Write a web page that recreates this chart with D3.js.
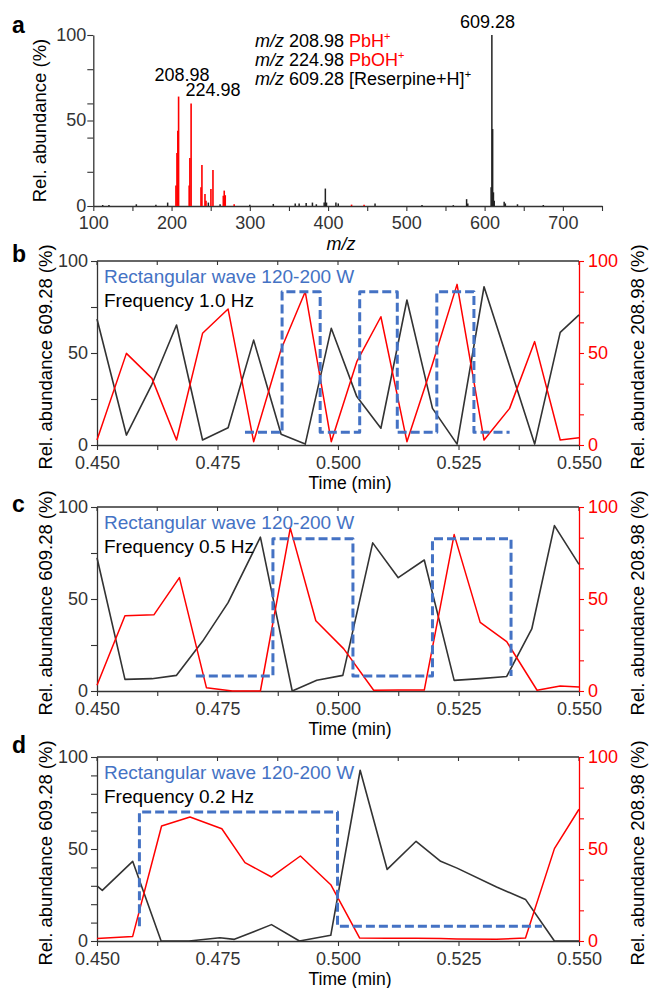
<!DOCTYPE html>
<html>
<head>
<meta charset="utf-8">
<script src="https://cdn.jsdelivr.net/npm/d3@7"></script>
<style>
  body { margin: 0; background: #fff; }
  svg text { font-family: "Liberation Sans", Arial, Helvetica, sans-serif; }
</style>
</head>
<body>
<svg id="fig" width="649" height="988"></svg>
<script>
// ---- panel a: mass spectrum (m/z, rel. abundance %) ----
var redMz  = [205.6, 206.9, 208.0, 208.98, 222.5, 223.4, 224.98, 237.6, 238.8, 242.7, 244.0, 250.3, 252.9, 266.1, 267.3, 268.6, 280, 430, 446];
var redInt = [12, 31, 44, 64, 12, 28, 60, 11, 24, 7, 3, 10, 21, 6, 9, 6.3, 1, 0.8, 0.8];
var blackMz  = [112, 120, 155, 180, 195, 247, 262, 300, 330, 358, 363, 372, 380, 385, 395, 396.5, 398, 410, 413, 460, 520, 560, 577, 578.5, 608.3, 609.28, 610.28, 611.3, 612.3, 625, 626.5, 642, 675];
var blackInt = [0.6, 0.6, 1, 0.8, 2, 2, 1, 0.8, 1.2, 1.5, 1.5, 1.8, 2, 1, 2, 10.2, 2, 2, 1.5, 1.5, 0.6, 0.5, 4, 1.5, 11, 100, 45, 8, 3, 2.5, 1.5, 1, 0.6];
var mzTicks = [100, 150, 200, 250, 300, 350, 400, 450, 500, 550, 600, 650, 700, 750];
var mzLabels = [100, 200, 300, 400, 500, 600, 700];

// ---- panels b-d: time traces (min, %) ----
var tB     = [0.450, 0.4561, 0.4614, 0.4665, 0.4719, 0.4772, 0.4825, 0.4882, 0.4932, 0.4986, 0.5039, 0.5089, 0.5143, 0.5196, 0.5247, 0.5303, 0.5356, 0.5408, 0.5461, 0.550];
var blackB = [68.5, 5.4, 33, 65.2, 2.7, 9.4, 57, 5.8, 0.5, 63.4, 26.3, 9.1, 78.8, 19.9, 0.5, 86, 43, 0.5, 61.2, 70.7];
var redB   = [2.7, 49.8, 36.2, 2.7, 60.7, 73.9, 1.8, 52, 83.3, 1.8, 45.3, 69.7, 1.8, 44, 87.3, 2.7, 19.9, 56.2, 2.7, 4];
var waveTB = [0.4807, 0.4884, 0.4884, 0.4963, 0.4963, 0.5045, 0.5045, 0.5123, 0.5123, 0.5205, 0.5205, 0.5282, 0.5282, 0.5356];
var waveVB = [6.9, 6.9, 83.3, 83.3, 6.9, 6.9, 83.3, 83.3, 6.9, 6.9, 83.3, 83.3, 6.9, 6.9];

var tCk    = [0.450, 0.4558, 0.4614, 0.4665, 0.4719, 0.4772, 0.4839, 0.4905, 0.4956, 0.5010, 0.5072, 0.5125, 0.5179, 0.5241, 0.5295, 0.5350, 0.5402, 0.5449, 0.550];
var blackC = [72.4, 6.3, 6.7, 8.5, 27, 48, 83.6, 0, 5.8, 8.5, 80.5, 61.6, 71.2, 5.8, 6.7, 7.9, 33.7, 89.9, 68.8];
var tCr    = [0.450, 0.4558, 0.4618, 0.4671, 0.4727, 0.4781, 0.4839, 0.4901, 0.4954, 0.5012, 0.5074, 0.5125, 0.5179, 0.5241, 0.5295, 0.5350, 0.5413, 0.5461, 0.550];
var redC   = [3.1, 40.9, 41.4, 61.6, 1.8, 0, 0, 88.5, 38.2, 22.9, 0.4, 0.5, 0.5, 85, 37.3, 26.8, 0.4, 2.7, 2.2];
var waveTC = [0.4705, 0.4865, 0.4865, 0.5031, 0.5031, 0.5196, 0.5196, 0.5359, 0.5359];
var waveVC = [8.1, 8.1, 82.7, 82.7, 8.1, 8.1, 82.7, 82.7, 8.1];

var tDk    = [0.450, 0.4511, 0.4574, 0.4633, 0.4691, 0.4755, 0.4785, 0.4862, 0.4920, 0.4985, 0.5046, 0.5102, 0.5162, 0.5213, 0.5247, 0.5329, 0.5389, 0.5449, 0.550];
var blackD = [29.9, 27.5, 43.3, 0, 0, 1.8, 0.9, 8.9, 0, 3.1, 92.8, 38.9, 54.2, 43.3, 39.6, 29.3, 22.6, 0, 0];
var tDr    = [0.450, 0.4574, 0.4634, 0.4693, 0.4759, 0.4807, 0.4862, 0.4922, 0.4985, 0.5045, 0.5102, 0.5162, 0.5213, 0.5247, 0.5329, 0.5389, 0.5449, 0.550];
var redD   = [1.3, 2.5, 62.5, 67.4, 61, 42.6, 34.8, 46.2, 30.6, 1.6, 1.5, 1.5, 1.3, 1.1, 1.0, 1.6, 50.2, 71.6];
var waveTD = [0.4588, 0.4588, 0.4999, 0.4999, 0.5423];
var waveVD = [8.0, 70.1, 70.1, 8.0, 8.0];

var timeTicks = d3.range(0, 9).map(function(i) { return 0.45 + i * 0.0125; });
var rightTicks = d3.range(0, 7).map(function(i) { return i * 100 / 6; });

var BLUE = "#4472c4", RED = "#ff0000", DARK = "#333";
var svg = d3.select("#fig");

// small helper for 0/50/100 labels
function label0_50_100(v) {
    return (Math.abs(v) < 0.01 || Math.abs(v - 50) < 0.01 || Math.abs(v - 100) < 0.01) ? d3.format("d")(Math.round(v)) : "";
}
function styleAxis(g, color) {
    g.select(".domain").attr("stroke", color).attr("stroke-width", 1.3);
    g.selectAll(".tick line").attr("stroke", color).attr("stroke-width", 1.1);
    g.selectAll(".tick text").attr("fill", color).style("font-size", "18px");
}

// ================= panel a =================
var xA = d3.scaleLinear().domain([100, 750]).range([93.3, 602]);
var yA = d3.scaleLinear().domain([0, 100]).range([206, 35]);

svg.append("g")
    .attr("transform", "translate(0,206)")
    .call(d3.axisBottom(xA).tickValues(mzTicks).tickSize(5).tickSizeOuter(0)
        .tickFormat(function(d) { return mzLabels.indexOf(d) >= 0 ? d : ""; }))
    .call(styleAxis, DARK)
    .selectAll(".tick text").attr("dy", "0.85em");

svg.append("g")
    .attr("transform", "translate(93.3,0)")
    .call(d3.axisLeft(yA).tickValues([0, 20, 40, 50, 60, 80, 100]).tickSize(6).tickSizeOuter(0)
        .tickFormat(label0_50_100))
    .call(styleAxis, DARK)
    .selectAll(".tick text").attr("x", -7).attr("dy", "0.3em");

// spectrum sticks
var sticksB = blackMz.map(function(m, i) { return { mz: m, v: blackInt[i] }; });
var sticksR = redMz.map(function(m, i) { return { mz: m, v: redInt[i] }; });
svg.selectAll(".stickB").data(sticksB).enter().append("line")
    .attr("class", "stickB")
    .attr("x1", function(d) { return xA(d.mz); }).attr("x2", function(d) { return xA(d.mz); })
    .attr("y1", yA(0)).attr("y2", function(d) { return yA(d.v); })
    .attr("stroke", "#222").attr("stroke-width", 1.5);
svg.selectAll(".stickR").data(sticksR).enter().append("line")
    .attr("class", "stickR")
    .attr("x1", function(d) { return xA(d.mz); }).attr("x2", function(d) { return xA(d.mz); })
    .attr("y1", yA(0)).attr("y2", function(d) { return yA(d.v); })
    .attr("stroke", RED).attr("stroke-width", 1.6);

// peak labels
svg.append("text").attr("x", 182).attr("y", 81).attr("text-anchor", "middle").style("font-size", "18px").text("208.98");
svg.append("text").attr("x", 213).attr("y", 95.5).attr("text-anchor", "middle").style("font-size", "18px").text("224.98");
svg.append("text").attr("x", 487.5).attr("y", 28).attr("text-anchor", "middle").style("font-size", "18px").text("609.28");

// legend lines
function legendLine(y, parts) {
    var t = svg.append("text").attr("x", 255).attr("y", y).style("font-size", "18px");
    parts.forEach(function(p) {
        var s = t.append("tspan").text(p.t);
        if (p.i) s.style("font-style", "italic");
        if (p.c) s.attr("fill", p.c);
        if (p.sup) s.attr("dy", -7).style("font-size", "11px");
    });
}
legendLine(46.5, [{ t: "m/z", i: true }, { t: " 208.98 " }, { t: "PbH", c: RED }, { t: "+", c: RED, sup: true }]);
legendLine(65.8, [{ t: "m/z", i: true }, { t: " 224.98 " }, { t: "PbOH", c: RED }, { t: "+", c: RED, sup: true }]);
legendLine(85, [{ t: "m/z", i: true }, { t: " 609.28 [Reserpine+H]" }, { t: "+", sup: true }]);

svg.append("text").attr("x", 341).attr("y", 250).attr("text-anchor", "middle")
    .style("font-size", "18px").style("font-style", "italic").text("m/z");
svg.append("text").attr("transform", "translate(46,120.5) rotate(-90)").attr("text-anchor", "middle")
    .style("font-size", "18.5px").text("Rel. abundance (%)");
svg.append("text").attr("x", 12).attr("y", 33).style("font-size", "23px").style("font-weight", "bold").text("a");

// ================= panels b-d =================
var xT = d3.scaleLinear().domain([0.45, 0.55]).range([97, 579]);

function drawTrace(p) {
    var top = p.top, bot = p.top + 184;
    var y = d3.scaleLinear().domain([0, 100]).range([bot, top]);

    // top frame line with small inward ticks
    svg.append("line").attr("x1", xT(0.45)).attr("x2", xT(0.55)).attr("y1", top).attr("y2", top)
        .attr("stroke", DARK).attr("stroke-width", 1.3);
    svg.selectAll(".topTick" + p.id).data(timeTicks).enter().append("line")
        .attr("x1", function(d) { return xT(d); }).attr("x2", function(d) { return xT(d); })
        .attr("y1", top).attr("y2", top + 4).attr("stroke", DARK).attr("stroke-width", 1.1);

    svg.append("g").attr("transform", "translate(0," + bot + ")")
        .call(d3.axisBottom(xT).tickValues(timeTicks).tickSize(5).tickSizeOuter(0)
            .tickFormat(function(d, i) { return i % 2 === 0 ? d3.format(".3f")(d) : ""; }))
        .call(styleAxis, DARK)
        .selectAll(".tick text").attr("dy", "0.88em");

    svg.append("g").attr("transform", "translate(97,0)")
        .call(d3.axisLeft(y).tickValues(d3.range(0, 100.01, p.leftStep)).tickSize(6).tickSizeOuter(0)
            .tickFormat(label0_50_100))
        .call(styleAxis, DARK)
        .selectAll(".tick text").attr("x", -9).attr("dy", "0.28em");

    svg.append("g").attr("transform", "translate(579,0)")
        .call(d3.axisRight(y).tickValues(rightTicks).tickSize(5).tickSizeOuter(0)
            .tickFormat(label0_50_100))
        .call(styleAxis, RED)
        .selectAll(".tick text").attr("x", 9).attr("dy", "0.28em");

    var line = d3.line().x(function(d) { return xT(d[0]); }).y(function(d) { return y(d[1]); });

    svg.append("path").datum(d3.zip(p.tk, p.black)).attr("d", line)
        .attr("fill", "none").attr("stroke", DARK).attr("stroke-width", 1.6).attr("stroke-linejoin", "round");
    svg.append("path").datum(d3.zip(p.tr, p.red)).attr("d", line)
        .attr("fill", "none").attr("stroke", RED).attr("stroke-width", 1.5).attr("stroke-linejoin", "round");
    svg.append("path").datum(d3.zip(p.waveT, p.waveV)).attr("d", line)
        .attr("fill", "none").attr("stroke", BLUE).attr("stroke-width", 3)
        .attr("stroke-dasharray", "9,4").attr("stroke-linejoin", "round");

    svg.append("text").attr("x", 104).attr("y", top + 22).attr("fill", BLUE)
        .style("font-size", "19px").text("Rectangular wave 120-200 W");
    svg.append("text").attr("x", 104).attr("y", top + 45.5)
        .style("font-size", "19px").text("Frequency " + p.freq + " Hz");

    svg.append("text").attr("x", 350).attr("y", bot + 43.5).attr("text-anchor", "middle")
        .style("font-size", "17.5px").text("Time (min)");
    svg.append("text").attr("transform", "translate(52," + (top + 96) + ") rotate(-90)")
        .attr("text-anchor", "middle").style("font-size", "18.5px").text("Rel. abundance 609.28 (%)");
    svg.append("text").attr("transform", "translate(644," + (top + 96) + ") rotate(-90)")
        .attr("text-anchor", "middle").style("font-size", "18.5px").text("Rel. abundance 208.98 (%)");

    svg.append("text").attr("x", 12).attr("y", p.labelY).style("font-size", "23px")
        .style("font-weight", "bold").text(p.id);
}

drawTrace({ id: "b", top: 261, labelY: 262, leftStep: 25, freq: "1.0",
    tk: tB, black: blackB, tr: tB, red: redB, waveT: waveTB, waveV: waveVB });
drawTrace({ id: "c", top: 507, labelY: 512, leftStep: 25, freq: "0.5",
    tk: tCk, black: blackC, tr: tCr, red: redC, waveT: waveTC, waveV: waveVC });
drawTrace({ id: "d", top: 757, labelY: 753, leftStep: 10, freq: "0.2",
    tk: tDk, black: blackD, tr: tDr, red: redD, waveT: waveTD, waveV: waveVD });
</script>
</body>
</html>
